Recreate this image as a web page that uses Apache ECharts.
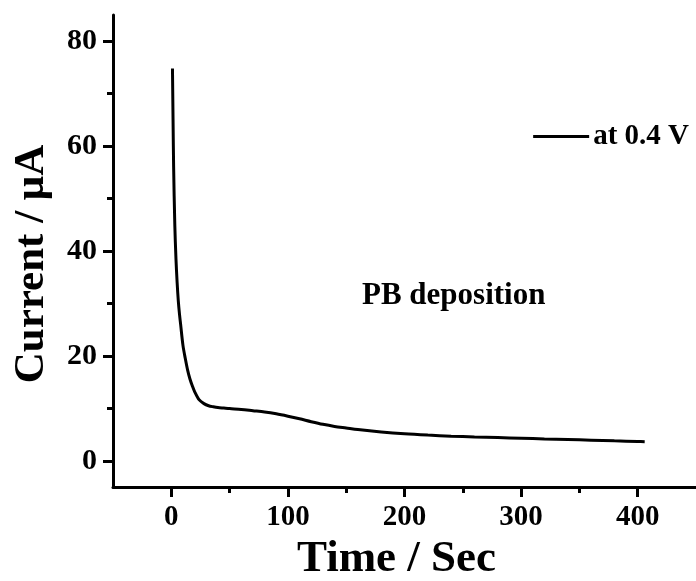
<!DOCTYPE html>
<html>
<head>
<meta charset="utf-8">
<script src="https://cdn.jsdelivr.net/npm/echarts@6/dist/echarts.min.js"></script>
<style>
html,body{margin:0;padding:0;background:#fff;}
#chart{width:696px;height:581px;}
</style>
</head>
<body>
<div id="chart"></div>
<script>
const timeSec = [1, 1.5, 2, 3, 4, 5, 6, 7, 8, 10, 12, 14, 16, 18, 20, 24, 28, 32, 36, 40, 45, 50, 60, 70, 80, 90, 100, 110, 120, 130, 140, 150, 160, 180, 200, 220, 240, 260, 280, 300, 320, 340, 360, 380, 400, 406];
const currentUA = [74.8, 65, 56, 45, 38.5, 34, 30.5, 28, 26, 22, 19.5, 17.3, 15.6, 14.3, 13.2, 11.6, 10.9, 10.5, 10.3, 10.15, 10.05, 9.95, 9.8, 9.55, 9.3, 8.95, 8.5, 8.0, 7.45, 6.95, 6.55, 6.25, 5.95, 5.5, 5.15, 4.9, 4.7, 4.55, 4.42, 4.3, 4.17, 4.05, 3.93, 3.8, 3.68, 3.63];
const xMajorTicks = [0, 100, 200, 300, 400];
const xMinorTicks = [50, 150, 250, 350];
const yMajorTicks = [0, 20, 40, 60, 80];
const yMinorTicks = [10, 30, 50, 70];
const seriesName = 'at 0.4 V';
const annotation = 'PB deposition';
const xTitle = 'Time / Sec';
const yTitle = 'Current / \u03bcA';

const FONT = '"Liberation Serif", serif';
const chart = echarts.init(document.getElementById('chart'), null, {renderer: 'canvas'});
const axisLine = {show: true, onZero: false, lineStyle: {color: '#000', width: 3}};
const hiddenLine = {show: false, onZero: false};
chart.setOption({
  animation: false,
  backgroundColor: '#fff',
  grid: {left: 113, top: 15, right: 0, bottom: 94, containLabel: false, outerBoundsMode: 'none'},
  legend: {
    show: true,
    data: [{name: seriesName, icon: 'rect'}],
    right: 2, top: 117,
    itemWidth: 56, itemHeight: 3,
    textStyle: {fontFamily: FONT, fontWeight: 'bold', fontSize: 29, color: '#000', padding: [0,0,0,-1]}
  },
  xAxis: [{
    type: 'value', min: -50, max: 450,
    axisLine: axisLine,
    splitLine: {show: false},
    axisTick: {show: true, length: 10, inside: false, lineStyle: {width: 3, color: '#000'}, customValues: xMajorTicks},
    axisLabel: {show: true, customValues: xMajorTicks, margin: 16, fontFamily: FONT, fontWeight: 'bold', fontSize: 29, color: '#000'},
    name: xTitle, nameLocation: 'middle', nameGap: 48,
    nameTextStyle: {fontFamily: FONT, fontWeight: 'bold', fontSize: 45, color: '#000', padding: [0, 16, 0, 0]}
  }, {
    type: 'value', min: -50, max: 450, position: 'bottom',
    axisLine: hiddenLine,
    splitLine: {show: false},
    axisTick: {show: true, length: 6, lineStyle: {width: 3, color: '#000'}, customValues: xMinorTicks},
    axisLabel: {show: false}
  }],
  yAxis: [{
    type: 'value', min: -5, max: 85,
    axisLine: axisLine,
    splitLine: {show: false},
    axisTick: {show: true, length: 10, lineStyle: {width: 3, color: '#000'}, customValues: yMajorTicks},
    axisLabel: {show: true, customValues: yMajorTicks, margin: 16, fontFamily: FONT, fontWeight: 'bold', fontSize: 30, color: '#000'},
    name: yTitle, nameLocation: 'middle', nameGap: 60,
    nameTextStyle: {fontFamily: FONT, fontWeight: 'bold', fontSize: 43, color: '#000', padding: [0, 26, 0, 0]}
  }, {
    type: 'value', min: -5, max: 85, position: 'left',
    axisLine: hiddenLine,
    splitLine: {show: false},
    axisTick: {show: true, length: 6, lineStyle: {width: 3, color: '#000'}, customValues: yMinorTicks},
    axisLabel: {show: false}
  }],
  graphic: [{
    type: 'text', left: 362, top: 280,
    style: {text: annotation, fontFamily: FONT, fontWeight: 'bold', fontSize: 31, fill: '#000'}
  }],
  series: [{
    name: seriesName, type: 'line',
    data: timeSec.map((t, i) => [t, currentUA[i]]),
    showSymbol: false, smooth: 0.3,
    lineStyle: {color: '#000', width: 3},
    itemStyle: {color: '#000'}
  }]
});
</script>
</body>
</html>
